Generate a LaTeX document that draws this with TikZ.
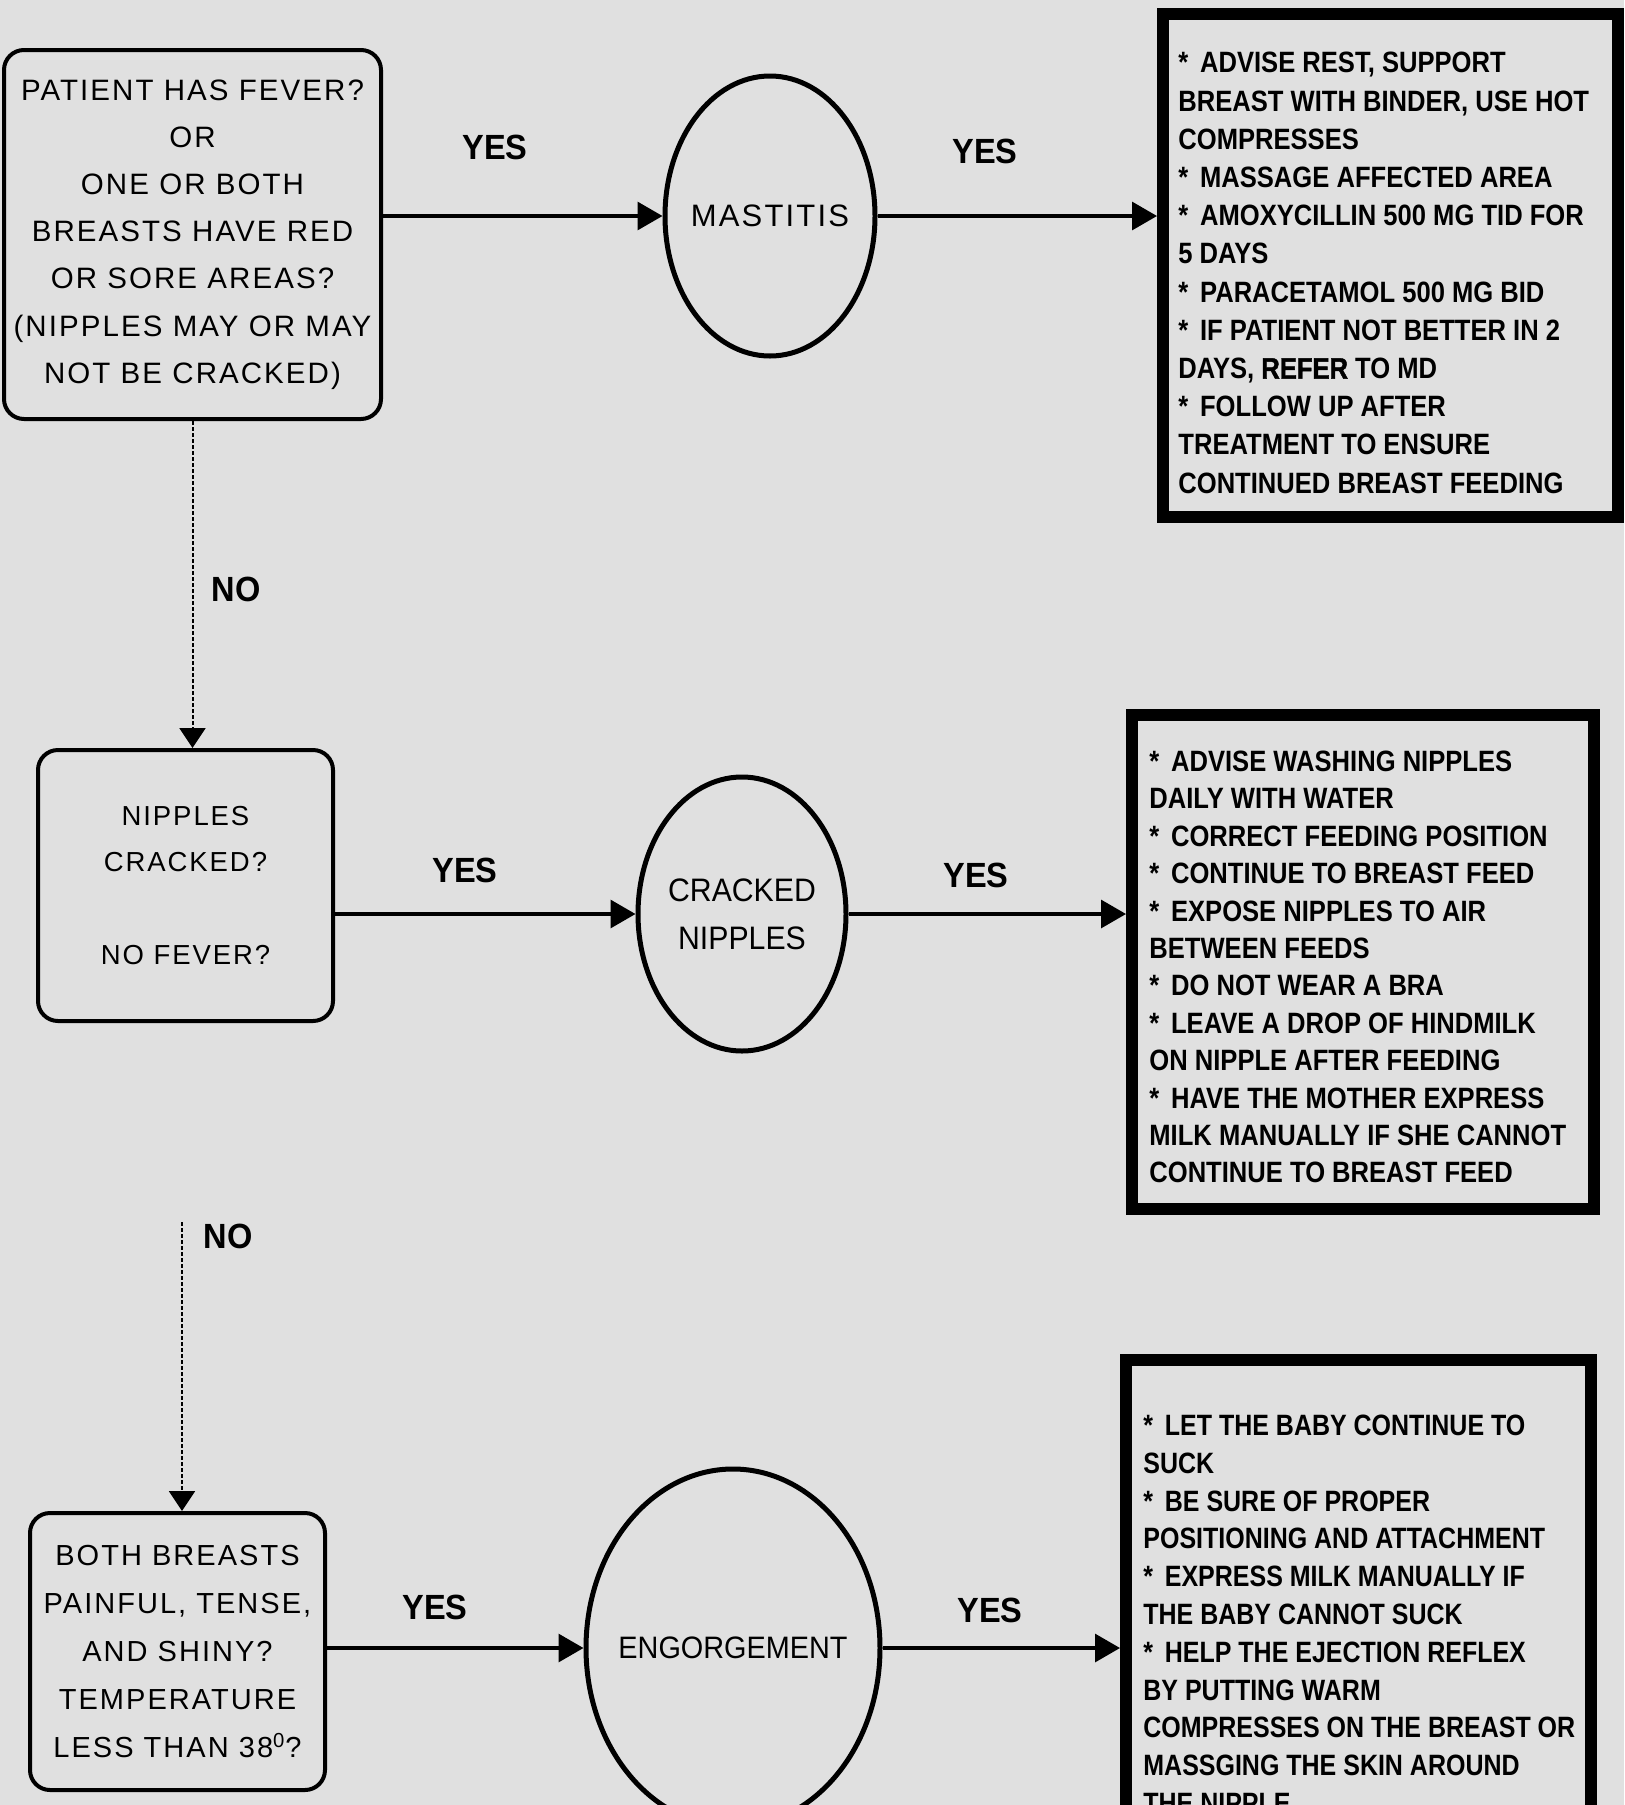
\documentclass[tikz,border=0pt]{standalone}
\usepackage{fontspec}
\setmainfont{Liberation Sans}
\newfontfamily\qfont[LetterSpace=7]{Liberation Sans}
\newfontfamily\efont[FakeStretch=0.93]{Liberation Sans}
\newfontfamily\tfont[FakeStretch=0.87]{Liberation Sans}
\newfontfamily\tcfont[FakeStretch=0.85]{Liberation Sans}
\newfontfamily\xfont[FakeStretch=0.87,BoldFeatures={FakeBold=1.5}]{Liberation Sans}
\newfontfamily\yfont[FakeStretch=0.93]{Liberation Sans}
\usetikzlibrary{shapes.geometric,arrows.meta}
\definecolor{paper}{RGB}{224,224,224}
\newcommand{\bstar}{*\hspace{0.4em}}

\begin{document}
\begin{tikzpicture}[x=0.5pt,y=-0.5pt,
  qbox/.style={draw, line width=2pt, rounded corners=10pt, align=center, inner sep=0pt},
  tbox/.style={draw, line width=6pt, inner sep=0pt},
  ttext/.style={anchor=north west, inner sep=0pt, align=left,
    font=\tfont\bfseries\fontsize{14.7}{#1}\selectfont},
  oval/.style={ellipse, draw, line width=2.5pt, inner sep=0pt},
  otext/.style={align=center, inner sep=0pt},
  answer/.style={font=\yfont\bfseries\fontsize{17.5}{21}\selectfont, inner sep=0pt},
  arr/.style={line width=1.6pt, -{Triangle[length=12.5pt,width=14pt]}},
  darr/.style={line width=1pt, dash pattern=on 2pt off 1pt, -{Triangle[length=10pt,width=13pt]}},
]
\useasboundingbox (0,0) rectangle (1624,1805);
\fill[paper] (0,0) rectangle (1624,1805);
\clip (0,0) rectangle (1624,1805);

% questions
\node[qbox, minimum width=188.5pt, minimum height=184.5pt,
      font=\qfont\fontsize{14.75}{23.6}\selectfont] (q1) at (192.5,234.5)
  {PATIENT HAS FEVER?\\OR\\ONE OR BOTH\\BREASTS HAVE RED\\OR SORE AREAS?\\(NIPPLES MAY OR MAY\\NOT BE CRACKED)};
\node[qbox, minimum width=147.5pt, minimum height=135.5pt,
      font=\qfont\fontsize{13.75}{23.15}\selectfont] (q2) at (185.5,885.5)
  {NIPPLES\\CRACKED?\\[23.15pt]NO FEVER?};
\node[qbox, minimum width=147.5pt, minimum height=138.5pt,
      font=\qfont\fontsize{14.5}{24}\selectfont] (q3) at (177.5,1651.5)
  {BOTH BREASTS\\PAINFUL, TENSE,\\AND SHINY?\\TEMPERATURE\\LESS THAN 38\textsuperscript{0}?};

% diagnoses
\node[oval, minimum width=105pt, minimum height=140pt] (m1) at (770,216) {};
\node[otext, font=\qfont\fontsize{15.5}{20}\selectfont] (m1t) at (m1) {MASTITIS};
\node[oval, minimum width=104pt, minimum height=137pt] (m2) at (742,914) {};
\node[otext, font=\efont\fontsize{16.25}{24}\selectfont] (m2t) at (m2) {CRACKED\\NIPPLES};
\node[oval, minimum width=147pt, minimum height=179pt] (m3) at (733,1648) {};
\node[otext, font=\efont\fontsize{15.5}{20}\selectfont] (m3t) at (m3) {ENGORGEMENT};

% treatments
\node[tbox, minimum width=227.5pt, minimum height=251.5pt] (ta) at (1390.5,265.5) {};
\node[ttext=19.1pt] (tat) at (1178,52) {%
\bstar ADVISE REST, SUPPORT\\
BREAST WITH BINDER, USE HOT\\
COMPRESSES\\
\bstar MASSAGE AFFECTED AREA\\
\bstar AMOXYCILLIN 500 MG TID FOR\\
5 DAYS\\
\bstar PARACETAMOL 500 MG BID\\
\bstar IF PATIENT NOT BETTER IN 2\\
DAYS, {\xfont\bfseries REFER} TO MD\\
\bstar FOLLOW UP AFTER\\
TREATMENT TO ENSURE\\
CONTINUED BREAST FEEDING};

\node[tbox, minimum width=231pt, minimum height=247pt] (tb) at (1363,962) {};
\node[ttext=18.7pt] (tbt) at (1149,750.5) {%
\bstar ADVISE WASHING NIPPLES\\
DAILY WITH WATER\\
\bstar CORRECT FEEDING POSITION\\
\bstar CONTINUE TO BREAST FEED\\
\bstar EXPOSE NIPPLES TO AIR\\
BETWEEN FEEDS\\
\bstar DO NOT WEAR A BRA\\
\bstar LEAVE A DROP OF HINDMILK\\
ON NIPPLE AFTER FEEDING\\
\bstar HAVE THE MOTHER EXPRESS\\
MILK MANUALLY IF SHE CANNOT\\
CONTINUE TO BREAST FEED};

\node[tbox, minimum width=232.5pt, minimum height=255pt] (tc) at (1358.5,1615) {};
\node[ttext=18.9pt, font=\tcfont\bfseries\fontsize{14.7}{18.9}\selectfont] (tct) at (1143,1414.5) {%
\bstar LET THE BABY CONTINUE TO\\
SUCK\\
\bstar BE SURE OF PROPER\\
POSITIONING AND ATTACHMENT\\
\bstar EXPRESS MILK MANUALLY IF\\
THE BABY CANNOT SUCK\\
\bstar HELP THE EJECTION REFLEX\\
BY PUTTING WARM\\
COMPRESSES ON THE BREAST OR\\
MASSGING THE SKIN AROUND\\
THE NIPPLE};

% yes branches
\draw[arr] (q1.east |- m1) -- (m1.west);
\draw[arr] (m1.east) -- (m1.east -| ta.west);
\draw[arr] (q2.east |- m2) -- (m2.west);
\draw[arr] (m2.east) -- (m2.east -| tb.west);
\draw[arr] (q3.east |- m3) -- (m3.west);
\draw[arr] (m3.east) -- (m3.east -| tc.west);

% no branches
\draw[darr] (q1.south) -- (q1.south |- q2.north);
\coordinate (n2s) at (182,1222);
\draw[darr] (n2s) -- (n2s |- q3.north);

% answer labels
\node[answer] (y1) at (495,147) {YES};
\node[answer] (y2) at (985,151) {YES};
\node[answer] (y3) at (465,870) {YES};
\node[answer] (y4) at (976,875) {YES};
\node[answer] (y5) at (435,1607) {YES};
\node[answer] (y6) at (990,1610) {YES};
\node[answer] (no1) at (236,589) {NO};
\node[answer] (no2) at (228,1236) {NO};
\end{tikzpicture}
\end{document}
